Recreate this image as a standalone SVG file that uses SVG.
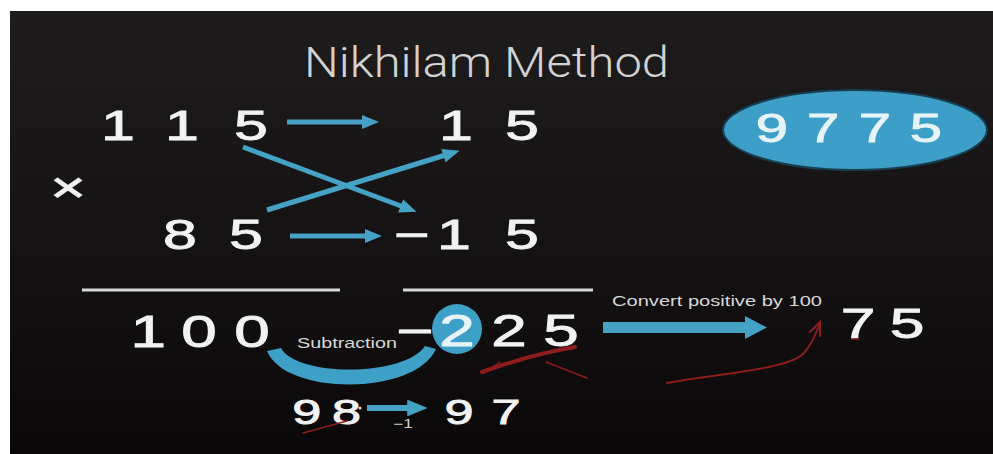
<svg xmlns="http://www.w3.org/2000/svg" width="993" height="454" viewBox="0 0 993 454">
<defs>
<linearGradient id="bg" x1="0" y1="0" x2="0" y2="1">
<stop offset="0" stop-color="#1e1c1c"/>
<stop offset="0.6" stop-color="#131111"/>
<stop offset="1" stop-color="#0a0808"/>
</linearGradient>
<marker id="ah" markerWidth="3.4" markerHeight="2.8" refX="1.8" refY="1.4" orient="auto" markerUnits="strokeWidth">
<path d="M0,0 L3.4,1.4 L0,2.8 Z" fill="#45a2c5"/>
</marker>
</defs>
<style>
.dg{font-family:"Liberation Sans",Arial,sans-serif;fill:#f2f2f2;stroke:#f2f2f2;stroke-width:0.9}
.sm{font-family:"Liberation Sans",Arial,sans-serif;fill:#d8d8d8}
.ar{stroke:#45a2c5;fill:none;stroke-linecap:butt}
.red{stroke:#8e1c1c;fill:none;stroke-linecap:round}
.rule{stroke:#d9d9d9;stroke-width:3}
</style>
<rect width="993" height="454" fill="#ffffff"/>
<rect x="10" y="11" width="983" height="443" fill="url(#bg)"/>

<g id="title">
<text x="304" y="77" class="sm" font-size="42" font-weight="300" textLength="365" lengthAdjust="spacingAndGlyphs" style="font-family:Roboto,'Liberation Sans',sans-serif;fill:#d2d2d2">Nikhilam Method</text>
</g>

<g id="result">
<ellipse cx="855" cy="130" rx="132" ry="40" fill="#3d9fc7" stroke="#173f52" stroke-width="2"/>
<g transform="scale(1.45,1)"><text class="dg" font-size="40" y="142" style="fill:#e6f4f8;stroke:#e6f4f8"><tspan x="521.3">9</tspan> <tspan x="556.5">7</tspan> <tspan x="592.3">7</tspan> <tspan x="627.5">5</tspan></text></g>
</g>

<g id="multiplicand" transform="scale(1.45,1)">
<text class="dg" font-size="42" y="140"><tspan x="69.7">1</tspan> <tspan x="113.8">1</tspan> <tspan x="161.4">5</tspan></text>
</g>
<g id="dev1" transform="scale(1.45,1)">
<text class="dg" font-size="42" y="140"><tspan x="302.8">1</tspan> <tspan x="348.3">5</tspan></text>
</g>
<g id="times" transform="scale(1.45,1)">
<text class="dg" font-size="42" y="202" x="46.9" text-anchor="middle">×</text>
</g>
<g id="multiplier" transform="scale(1.45,1)">
<text class="dg" font-size="42" y="249"><tspan x="112.4">8</tspan> <tspan x="158">5</tspan></text>
</g>
<g id="dev2" transform="scale(1.45,1)">
<text class="dg" font-size="42" y="249"><tspan x="271.8">−</tspan><tspan x="301.4">1</tspan> <tspan x="348.3">5</tspan></text>
</g>

<g id="rules">
<line x1="82" y1="290" x2="340" y2="290" class="rule"/>
<line x1="403" y1="290" x2="593" y2="290" class="rule"/>
</g>

<g id="sum" transform="scale(1.45,1)">
<text class="dg" font-size="44" y="347"><tspan x="90">1</tspan> <tspan x="125">0</tspan> <tspan x="161.6">0</tspan></text>
</g>

<g id="product">
<circle cx="457" cy="329" r="25" fill="#3e9fc7"/>
<g transform="scale(1.45,1)">
<text class="dg" font-size="44" y="346"><tspan x="273.4">−</tspan><tspan x="303" style="fill:#e6f4f8;stroke:#e6f4f8">2</tspan> <tspan x="338.8">2</tspan> <tspan x="374.7">5</tspan></text>
</g>
</g>

<g id="subtraction">
<path d="M267,351 C285,396 415,396 436,349 L425,346 C405,377 296,377 281,348 Z" fill="#3e9fc7"/>
<text x="297" y="348" class="sm" font-size="14" textLength="100" lengthAdjust="spacingAndGlyphs">Subtraction</text>
</g>

<g id="convert">
<text x="612" y="306" class="sm" font-size="14" textLength="210" lengthAdjust="spacingAndGlyphs">Convert positive by 100</text>
</g>

<g id="final" transform="scale(1.45,1)">
<text class="dg" font-size="43" y="338"><tspan x="579.8">7</tspan> <tspan x="613.6">5</tspan></text>
</g>

<g id="carry" transform="scale(1.45,1)">
<text class="dg" font-size="36" y="424"><tspan x="201.5">9</tspan> <tspan x="229">8</tspan></text>
<text class="dg" font-size="12" y="428" x="277.9" text-anchor="middle" style="fill:#d0d0d0;stroke:none">−1</text>
<text class="dg" font-size="36" y="424"><tspan x="306.6">9</tspan> <tspan x="339">7</tspan></text>
</g>

<g id="connectors">
<line x1="287" y1="122" x2="371" y2="122" class="ar" stroke-width="5" marker-end="url(#ah)"/>
<line x1="290" y1="236" x2="374" y2="236" class="ar" stroke-width="5" marker-end="url(#ah)"/>
<line x1="243" y1="147" x2="409" y2="209" class="ar" stroke-width="5" marker-end="url(#ah)"/>
<line x1="267" y1="210" x2="452" y2="153" class="ar" stroke-width="5" marker-end="url(#ah)"/>
<line x1="367" y1="408" x2="418" y2="408" class="ar" stroke-width="6" marker-end="url(#ah)"/>
<line x1="603" y1="327.5" x2="747" y2="327.5" class="ar" stroke-width="11"/>
<path d="M745,316 L767,327.5 L745,339 Z" fill="#45a2c5"/>
<circle cx="360" cy="408" r="1.5" fill="#dddddd"/>
</g>

<g id="marks">
<path d="M482,372 C510,362 545,352 575,347" class="red" stroke-width="4"/>
<path d="M484,373 L500,362" class="red" stroke-width="1.5"/>
<path d="M546,362 L587,378" class="red" stroke-width="1.5"/>
<path d="M667,383 C720,373 785,370 803,354 C811,346 816,334 820,323" class="red" stroke-width="2"/>
<path d="M810,332 L820,322 L820,336" class="red" stroke-width="2"/>
<path d="M303,433 L347,421" class="red" stroke-width="1.5"/>
<path d="M853,339 L859,339" class="red" stroke-width="1.5"/>
</g>
</svg>
